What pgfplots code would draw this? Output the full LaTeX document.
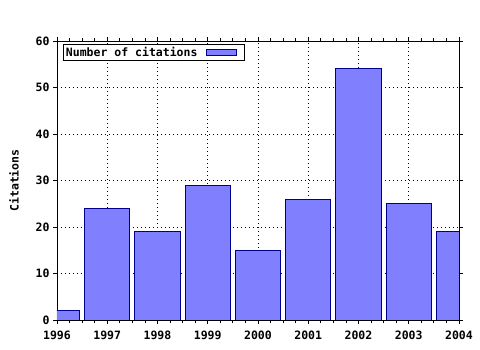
\documentclass[border=0pt]{standalone}
\usepackage{pgfplots}
\pgfplotsset{compat=1.18}
\usepackage{fontspec}
\setmainfont{DejaVu Sans Mono}
\definecolor{barfill}{HTML}{8080FF}
\definecolor{baredge}{HTML}{000090}
\begin{document}
\begin{tikzpicture}
\useasboundingbox (0pt,0pt) rectangle (480pt,350pt);
\begin{axis}[
  at={(57pt,30pt)}, anchor=south west,
  scale only axis, width=402pt, height=279pt,
  xmin=1996, xmax=2004, ymin=0, ymax=60,
  xtick={1996,1997,...,2004}, ytick={0,10,...,60},
  minor xtick={1996.25,1996.5,1996.75,1997.25,1997.5,1997.75,1998.25,1998.5,1998.75,1999.25,1999.5,1999.75,2000.25,2000.5,2000.75,2001.25,2001.5,2001.75,2002.25,2002.5,2002.75,2003.25,2003.5,2003.75},
  xticklabel style={/pgf/number format/1000 sep={}, anchor=north, text height=8pt, text depth=0pt, yshift=-4pt},
  /pgf/number format/assume math mode=true,
  tick label style={font=\fontsize{11.5}{12}\selectfont\bfseries},
  tick align=outside,
  major tick length=4pt, minor tick length=3pt,
  grid=major,
  major grid style={black, dash pattern=on 1pt off 3pt, line width=0.8pt},
  minor grid style={draw=none},
  axis line style={black, line width=0.8pt},
  every tick/.style={black, line width=0.8pt},
  every minor tick/.style={black, line width=0.8pt},
  ylabel={Citations},
  ylabel style={font=\fontsize{11.5}{12}\selectfont\bfseries, at={(axis description cs:0,0.5)}, anchor=center, yshift=43pt},
  ybar, bar width=45.2pt, bar shift=0pt,
  legend plot pos=right,
  legend style={at={(axis cs:1996.12,59.4)}, anchor=north west, draw=black, line width=0.8pt,
    font=\fontsize{11.5}{12}\selectfont\bfseries, inner sep=0.5pt, row sep=0pt,
    cells={anchor=west}},
  legend image code/.code={\path (0pt,0pt) (44pt,0pt);\draw[fill=barfill, draw=baredge, line width=0.8pt] (7pt,-3pt) rectangle (37pt,3pt);},
]
\addplot[fill=barfill, draw=baredge, line width=0.8pt] coordinates {
  (1996,2) (1997,24) (1998,19) (1999,29) (2000,15)
  (2001,26) (2002,54) (2003,25) (2004,19)
};
\addlegendentry{Number of citations}
\end{axis}
\end{tikzpicture}
\end{document}
